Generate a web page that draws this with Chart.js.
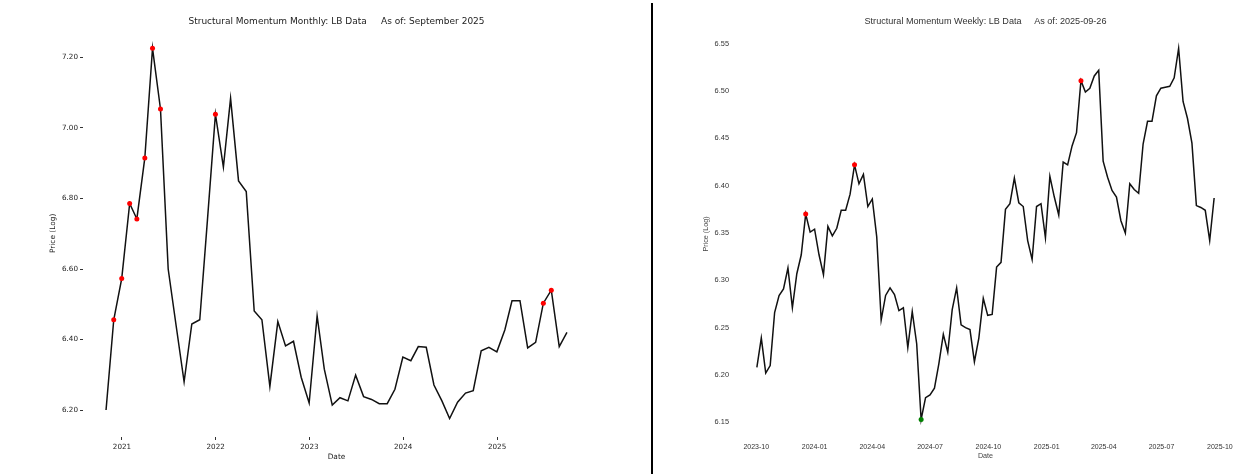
<!DOCTYPE html>
<html>
<head>
<meta charset="utf-8">
<title>Structural Momentum</title>
<script src="https://cdn.jsdelivr.net/npm/chart.js@4.4.1/dist/chart.umd.min.js"></script>
<style>
    html, body { margin: 0; padding: 0; background: #fff; }
    body { width: 1247px; height: 474px; position: relative; overflow: hidden; }
    #monthly { position: absolute; left: 0; top: 0; }
    #weekly { position: absolute; left: 655px; top: 0; }
    #divider { position: absolute; left: 651px; top: 3px; width: 2px; height: 471px; background: #000; }
</style>
</head>
<body>
<canvas id="monthly" width="640" height="474"></canvas>
<div id="divider"></div>
<canvas id="weekly" width="592" height="474"></canvas>
<script>
// Monthly data (month-end), Oct 2020 .. Sep 2025
const monthlyFirstYear = 2020;
const monthlyFirstMonth = 9; // October (0-based)
const monthlyValues = [
    6.200, 6.456, 6.573,
    6.786, 6.742, 6.915, 7.226, 7.054, 6.600, 6.439, 6.280, 6.444, 6.456, 6.740, 7.039,
    6.889, 7.084, 6.850, 6.820, 6.481, 6.456, 6.267, 6.451, 6.382, 6.395, 6.293, 6.220,
    6.467, 6.316, 6.214, 6.235, 6.226, 6.299, 6.238, 6.230, 6.218, 6.218, 6.259, 6.350,
    6.340, 6.380, 6.378, 6.271, 6.226, 6.176, 6.222, 6.248, 6.255, 6.368, 6.378, 6.365,
    6.427, 6.510, 6.510, 6.376, 6.392, 6.503, 6.540, 6.380, 6.420
];
const monthlyRedIdx = [1, 2, 3, 4, 5, 6, 7, 14, 56, 57];
const monthlyYearTicks = [2021, 2022, 2023, 2024, 2025];
const monthlyPriceTicks = [6.20, 6.40, 6.60, 6.80, 7.00, 7.20];

// Weekly data, 104 weeks ending late Sep 2025
const weeklyStart = '2023-10-02';
const weeklyValues = [
    6.208, 6.239, 6.202, 6.210, 6.266, 6.284, 6.291, 6.313, 6.271, 6.307,
    6.327, 6.370, 6.351, 6.354, 6.327, 6.306, 6.357, 6.347, 6.355, 6.374,
    6.374, 6.391, 6.422, 6.402, 6.412, 6.378, 6.386, 6.346, 6.258, 6.284,
    6.292, 6.285, 6.268, 6.271, 6.229, 6.267, 6.233, 6.153, 6.176, 6.179,
    6.186, 6.212, 6.243, 6.224, 6.269, 6.292, 6.253, 6.250, 6.248, 6.214,
    6.239, 6.281, 6.263, 6.264, 6.314, 6.319, 6.375, 6.381, 6.408, 6.382,
    6.378, 6.342, 6.322, 6.378, 6.381, 6.345, 6.410, 6.388, 6.369, 6.425,
    6.422, 6.442, 6.456, 6.511, 6.499, 6.503, 6.516, 6.522, 6.426, 6.409,
    6.395, 6.388, 6.363, 6.350, 6.402, 6.396, 6.392, 6.444, 6.468, 6.468,
    6.495, 6.503, 6.504, 6.505, 6.514, 6.545, 6.489, 6.471, 6.445, 6.379,
    6.377, 6.374, 6.342, 6.387
];
const weeklyRedIdx = [11, 22, 73];
const weeklyGreenIdx = [37];
const weeklyDateTicks = ['2023-10', '2024-01', '2024-04', '2024-07', '2024-10',
                         '2025-01', '2025-04', '2025-07', '2025-10'];
const weeklyPriceTicks = [6.15, 6.20, 6.25, 6.30, 6.35, 6.40, 6.45, 6.50, 6.55];

const DAY = 24 * 3600 * 1000;

// matplotlib-like 5% margins
function padRange(values) {
    const lo = Math.min(...values), hi = Math.max(...values);
    const m = (hi - lo) * 0.05;
    return [lo - m, hi + m];
}

function fixedTicks(values) {
    return function (scale) {
        scale.ticks = values.map(v => ({ value: v }));
    };
}

const monthlyPoints = monthlyValues.map((v, i) => ({
    x: Date.UTC(monthlyFirstYear, monthlyFirstMonth + i + 1, 0),
    y: v
}));
const weeklyPoints = weeklyValues.map((v, i) => ({
    x: Date.parse(weeklyStart) + i * 7 * DAY,
    y: v
}));

const mX = padRange(monthlyPoints.map(p => p.x));
const mY = padRange(monthlyValues);
const wX = padRange(weeklyPoints.map(p => p.x));
const wY = padRange(weeklyValues);

const monthlyXTickValues = monthlyYearTicks.map(y => Date.UTC(y, 0, 1));
const weeklyXTickValues = weeklyDateTicks.map(s => Date.parse(s + '-01'));

Chart.defaults.animation = false;

// Left: monthly chart
const leftFont = 'DejaVu Sans';
const leftTickGrid = {
    display: true,
    drawOnChartArea: false,
    drawTicks: true,
    tickLength: 3,
    color: '#333'
};

new Chart(document.getElementById('monthly'), {
    type: 'line',
    data: {
        datasets: [{
            data: monthlyPoints,
            borderColor: '#111',
            borderWidth: 1.5,
            tension: 0,
            pointRadius: ctx => monthlyRedIdx.includes(ctx.dataIndex) ? 2.5 : 0,
            pointBackgroundColor: '#ff0000',
            pointBorderWidth: 0
        }]
    },
    options: {
        responsive: false,
        events: [],
        layout: { padding: { left: 45, right: 50, top: 0, bottom: 0 } },
        plugins: {
            legend: { display: false },
            tooltip: { enabled: false },
            title: {
                display: true,
                fullSize: false,
                text: 'Structural Momentum Monthly: LB Data     As of: September 2025',
                color: '#222',
                font: { family: leftFont, size: 9, weight: 'normal' },
                padding: { top: 16, bottom: 3 }
            }
        },
        scales: {
            x: {
                type: 'linear',
                min: mX[0],
                max: mX[1],
                afterBuildTicks: fixedTicks(monthlyXTickValues),
                afterFit: scale => { scale.height = 37; },
                grid: leftTickGrid,
                border: { display: false },
                ticks: {
                    color: '#222',
                    padding: 3,
                    maxRotation: 0,
                    font: { family: leftFont, size: 7.2 },
                    callback: (value, index) => String(monthlyYearTicks[index])
                },
                title: {
                    display: true,
                    text: 'Date',
                    color: '#222',
                    font: { family: leftFont, size: 7.4 },
                    padding: { top: 0, bottom: 12 }
                }
            },
            y: {
                min: mY[0],
                max: mY[1],
                afterBuildTicks: fixedTicks(monthlyPriceTicks),
                afterFit: scale => { scale.width = 38; },
                grid: leftTickGrid,
                border: { display: false },
                ticks: {
                    color: '#222',
                    padding: 2,
                    font: { family: leftFont, size: 7.2 },
                    callback: value => value.toFixed(2)
                },
                title: {
                    display: true,
                    text: 'Price (Log)',
                    color: '#222',
                    font: { family: leftFont, size: 7.4 },
                    padding: { top: 4, bottom: 0 }
                }
            }
        }
    }
});

// Right: weekly chart
const rightFont = 'Liberation Sans';

new Chart(document.getElementById('weekly'), {
    type: 'line',
    data: {
        datasets: [{
            data: weeklyPoints,
            borderColor: '#111',
            borderWidth: 1.5,
            tension: 0,
            pointRadius: ctx => (weeklyRedIdx.includes(ctx.dataIndex) || weeklyGreenIdx.includes(ctx.dataIndex)) ? 2.5 : 0,
            pointBackgroundColor: ctx => weeklyGreenIdx.includes(ctx.dataIndex) ? '#008000' : '#ff0000',
            pointBorderWidth: 0
        }]
    },
    options: {
        responsive: false,
        events: [],
        layout: { padding: { left: 43, right: 10, top: 0, bottom: 0 } },
        plugins: {
            legend: { display: false },
            tooltip: { enabled: false },
            title: {
                display: true,
                fullSize: false,
                text: 'Structural Momentum Weekly: LB Data     As of: 2025-09-26',
                color: '#333',
                font: { family: rightFont, size: 9.1, weight: 'normal' },
                padding: { top: 16, bottom: 3 }
            }
        },
        scales: {
            x: {
                type: 'linear',
                min: wX[0],
                max: wX[1],
                afterBuildTicks: fixedTicks(weeklyXTickValues),
                afterFit: scale => { scale.height = 36; },
                grid: { display: false, drawTicks: false },
                border: { display: false },
                ticks: {
                    color: '#333',
                    padding: 5,
                    maxRotation: 0,
                    font: { family: rightFont, size: 7 },
                    callback: (value, index) => weeklyDateTicks[index]
                },
                title: {
                    display: true,
                    text: 'Date',
                    color: '#444',
                    font: { family: rightFont, size: 7.2 },
                    padding: { top: 0, bottom: 14 }
                }
            },
            y: {
                min: wY[0],
                max: wY[1],
                afterBuildTicks: fixedTicks(weeklyPriceTicks),
                afterFit: scale => { scale.width = 36; },
                grid: { display: false, drawTicks: false },
                border: { display: false },
                ticks: {
                    color: '#333',
                    padding: 5,
                    font: { family: rightFont, size: 7.4 },
                    callback: value => value.toFixed(2)
                },
                title: {
                    display: true,
                    text: 'Price (Log)',
                    color: '#444',
                    font: { family: rightFont, size: 7.2 },
                    padding: { top: 4, bottom: 0 }
                }
            }
        }
    }
});
</script>
</body>
</html>
